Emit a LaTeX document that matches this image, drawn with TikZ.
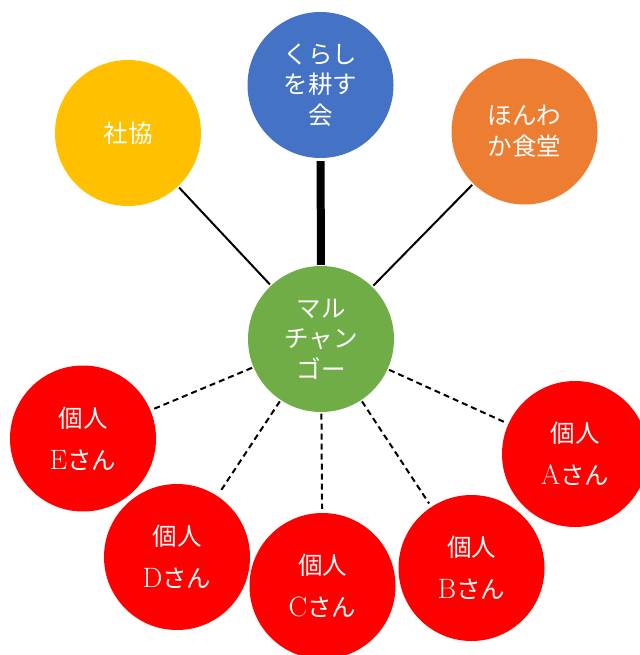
\documentclass[tikz,border=0pt]{standalone}
\usepackage{fontspec}
\newfontfamily\cjk{Noto Sans CJK JP}
\newcommand{\lat}[1]{{\rmfamily\fontsize{28}{42}\selectfont #1}}
\definecolor{cyellow}{HTML}{FFC000}
\definecolor{cblue}{HTML}{4472C4}
\definecolor{corange}{HTML}{ED7D31}
\definecolor{cgreen}{HTML}{70AD47}
\definecolor{cred}{HTML}{FF0000}
\begin{document}
\begin{tikzpicture}[x=1pt,y=-1pt,
  circ/.style={circle, minimum size=146pt, inner sep=0pt, text=white, align=center,
    font=\cjk\fontsize{24.5}{30.5}\selectfont},
  person/.style={circ, fill=cred, font=\cjk\fontsize{24.5}{42}\selectfont},
  link/.style={draw=black, line width=2pt, shorten >=1.5pt, shorten <=1.5pt},
  strong/.style={draw=black, line width=8pt, shorten >=1pt, shorten <=3pt},
  weak/.style={draw=black, line width=2pt, dash pattern=on 6pt off 4pt, shorten >=4pt, shorten <=1.5pt}]
\useasboundingbox (0,0) rectangle (639,655);
\node[circ, fill=cyellow] (shakyo) at (128,133) {社協};
\node[circ, fill=cblue] (kurashi) at (320.5,85) {くらし\\を耕す\\会};
\node[circ, fill=corange] (honwaka) at (524.5,131.5) {ほんわ\\か食堂};
\node[circ, fill=cgreen] (maru) at (321,339) {マル\\チャン\\ゴー};
\node[person] (pe) at (83,438.5) {個人\\\lat{E}さん};
\node[person] (pd) at (177,557) {個人\\\lat{D}さん};
\node[person] (pc) at (322.5,586) {個人\\\lat{C}さん};
\node[person] (pb) at (471.5,568) {個人\\\lat{B}さん};
\node[person] (pa) at (575,454) {個人\\\lat{A}さん};
\draw[link] (shakyo) -- (maru);
\draw[strong] (kurashi) -- (maru);
\draw[link] (honwaka) -- (maru);
\draw[weak] (maru) -- (pe);
\draw[weak] (maru) -- (pd);
\draw[weak] (maru) -- (pc);
\draw[weak] (maru) -- (pb);
\draw[weak] (maru) -- (pa);
\end{tikzpicture}
\end{document}
